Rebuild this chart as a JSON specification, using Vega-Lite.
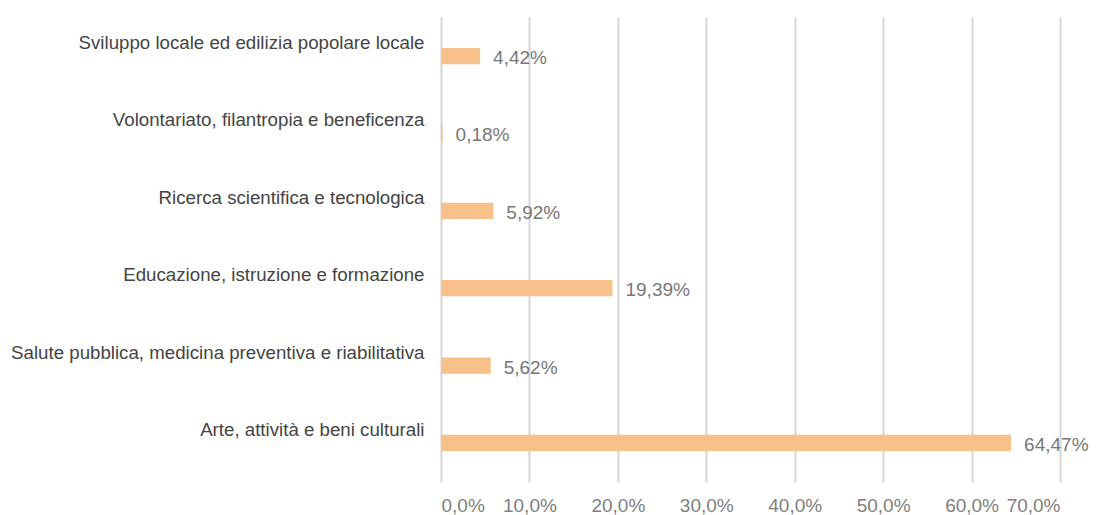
{
  "$schema": "https://vega.github.io/schema/vega-lite/v6.json",
  "width": 619,
  "height": 465,
  "autosize": "none",
  "padding": {"left": 441, "top": 17, "right": 37, "bottom": 33},
  "background": "white",
  "config": {"view": {"stroke": null}, "font": "Liberation Sans"},
  "data": {
    "values": [
      {"cat": "Sviluppo locale ed edilizia popolare locale", "v": 4.42},
      {"cat": "Volontariato, filantropia e beneficenza", "v": 0.18},
      {"cat": "Ricerca scientifica e tecnologica", "v": 5.92},
      {"cat": "Educazione, istruzione e formazione", "v": 19.39},
      {"cat": "Salute pubblica, medicina preventiva e riabilitativa", "v": 5.62},
      {"cat": "Arte, attività e beni culturali", "v": 64.47}
    ]
  },
  "encoding": {
    "y": {
      "field": "cat", "type": "nominal", "sort": null,
      "scale": {"paddingInner": 0.79, "paddingOuter": 0.4},
      "axis": {
        "title": null, "domain": false, "ticks": false,
        "labelFontSize": 18.7, "labelColor": "#444", "labelPadding": 17,
        "labelOffset": -13, "labelLimit": 600, "labelFont": "Liberation Sans"
      }
    },
    "x": {
      "field": "v", "type": "quantitative",
      "scale": {"domain": [0, 70], "nice": false},
      "axis": {
        "title": null, "values": [0, 10, 20, 30, 40, 50, 60, 70],
        "labelExpr": "replace(format(datum.value, '.1f'), '.', ',') + '%'",
        "domain": false, "ticks": false,
        "grid": true, "gridColor": "#d6d6d6", "gridWidth": 2,
        "labelFontSize": 19, "labelColor": "#808080", "labelPadding": 14,
        "labelFont": "Liberation Sans", "labelOverlap": false
      }
    }
  },
  "layer": [
    {"mark": {"type": "bar", "color": "#F8C08A"}},
    {
      "mark": {"type": "text", "align": "left", "baseline": "middle", "dx": 13, "dy": 2, "fontSize": 19, "color": "#777", "font": "Liberation Sans"},
      "encoding": {"text": {"field": "label"}},
      "transform": [{"calculate": "replace(format(datum.v, '.2f'), '.', ',') + '%'", "as": "label"}]
    }
  ]
}
